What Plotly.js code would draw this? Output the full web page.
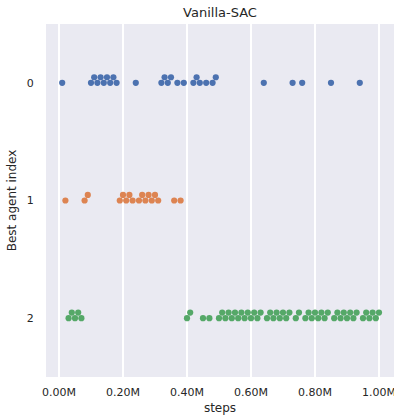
<!DOCTYPE html>
<html>
<head>
<meta charset="utf-8">
<script src="https://cdn.plot.ly/plotly-3.0.1.min.js"></script>
<style>html,body{margin:0;padding:0;background:#fff;}#chart{width:394px;height:418px;}</style>
</head>
<body>
<div id="chart"></div>
<script>
// ---- data ----
const chartTitle = 'Vanilla-SAC';
const xLabel = 'steps';
const yLabel = 'Best agent index';
const agentLabels = ['0', '1', '2'];
const xTickVals = [0, 200000, 400000, 600000, 800000, 1000000];
const xTickText = ['0.00M', '0.20M', '0.40M', '0.60M', '0.80M', '1.00M'];

const agent0Steps = [10000, 100000, 110000, 120000, 130000, 140000, 150000, 160000, 170000, 180000,
  240000, 320000, 330000, 340000, 350000, 370000, 390000, 420000, 430000, 440000, 460000,
  480000, 490000, 640000, 730000, 760000, 850000, 940000];
const agent1Steps = [20000, 80000, 90000, 190000, 200000, 210000, 220000, 230000, 250000, 260000,
  270000, 280000, 290000, 300000, 310000, 360000, 380000];
const agent2Steps = [30000, 40000, 50000, 60000, 70000, 400000, 410000, 450000, 470000,
  500000, 510000, 520000, 530000, 540000, 550000, 560000, 570000, 580000, 590000, 600000, 610000, 620000, 630000,
  650000, 660000, 670000, 680000, 690000, 700000, 710000, 720000,
  740000, 750000,
  770000, 780000, 790000, 800000, 810000, 820000, 830000, 840000,
  860000, 870000, 880000, 890000, 900000, 910000, 920000, 930000,
  950000, 960000, 970000, 980000, 990000, 1000000];

const agentSteps = [agent0Steps, agent1Steps, agent2Steps];
const agentColors = ['#4C72B0', '#DD8452', '#55A868'];

// ---- layout geometry ----
const W = 394, H = 418;
const M = {l: 46, r: 0, t: 24, b: 41};
const xRange = [-40600, 1046900];
const yRange = [2.5, -0.5];
const plotW = W - M.l - M.r, plotH = H - M.t - M.b;
const pxPerX = plotW / (xRange[1] - xRange[0]);
const pxPerY = plotH / Math.abs(yRange[0] - yRange[1]);
const dotD = 6.2;

// beeswarm (seaborn-like) in pixel space
function swarmOffsets(xs) {
  const order = xs.map((v, i) => i).sort((a, b) => xs[a] - xs[b]);
  const placed = [];
  const out = new Array(xs.length);
  for (const i of order) {
    const xp = xs[i] * pxPerX;
    const nb = placed.filter(p => Math.abs(xp - p.x) < dotD);
    const cands = [0];
    nb.forEach(p => {
      const dx = xp - p.x;
      const dy = Math.sqrt(Math.max(dotD * dotD - dx * dx, 0)) * 1.05;
      cands.push(p.y - dy, p.y + dy);
    });
    const sorted = cands.map((c, k) => ({c, k})).sort((a, b) => {
      const d = Math.abs(a.c) - Math.abs(b.c);
      return Math.abs(d) > 1e-9 ? d : a.k - b.k;
    });
    let chosen = 0;
    for (const s of sorted) {
      if (nb.every(p => Math.hypot(xp - p.x, s.c - p.y) >= dotD - 1e-6)) { chosen = s.c; break; }
    }
    placed.push({x: xp, y: chosen});
    out[i] = chosen;
  }
  return out;
}

const traces = agentSteps.map((steps, a) => {
  const offs = swarmOffsets(steps);
  return {
    type: 'scatter', mode: 'markers',
    x: steps,
    y: offs.map(o => a + o / pxPerY),
    marker: {color: agentColors[a], size: dotD, line: {width: 0}},
    hoverinfo: 'skip', showlegend: false, cliponaxis: false
  };
});

const fontFam = 'DejaVu Sans, sans-serif';
const txt = '#262626';

const layout = {
  width: W, height: H,
  margin: M,
  paper_bgcolor: '#ffffff',
  plot_bgcolor: '#EAEAF2',
  font: {family: fontFam, color: txt, size: 11},
  title: {text: chartTitle, font: {size: 13, color: txt, family: fontFam},
          x: 0.5, xref: 'paper', xanchor: 'center', y: 1 - 12.5 / H, yref: 'container', yanchor: 'middle'},
  xaxis: {
    range: xRange, tickvals: xTickVals, ticktext: xTickText,
    showgrid: true, gridcolor: '#ffffff', gridwidth: 1.3,
    zeroline: false, showline: false,
    ticks: 'outside', ticklen: 5, tickcolor: 'rgba(0,0,0,0)',
    ticklabeloverflow: 'allow',
    tickfont: {size: 11, color: txt},
    title: {text: xLabel, font: {size: 12, color: txt}, standoff: 5}
  },
  yaxis: {
    range: yRange, tickvals: [0, 1, 2], ticktext: agentLabels,
    showgrid: false, zeroline: false, showline: false,
    ticks: 'outside', ticklen: 9, tickcolor: 'rgba(0,0,0,0)',
    tickfont: {size: 11, color: txt},
    title: {text: yLabel, font: {size: 12, color: txt}, standoff: 7}
  }
};

Plotly.newPlot('chart', traces, layout, {displayModeBar: false, staticPlot: true});
</script>
</body>
</html>
